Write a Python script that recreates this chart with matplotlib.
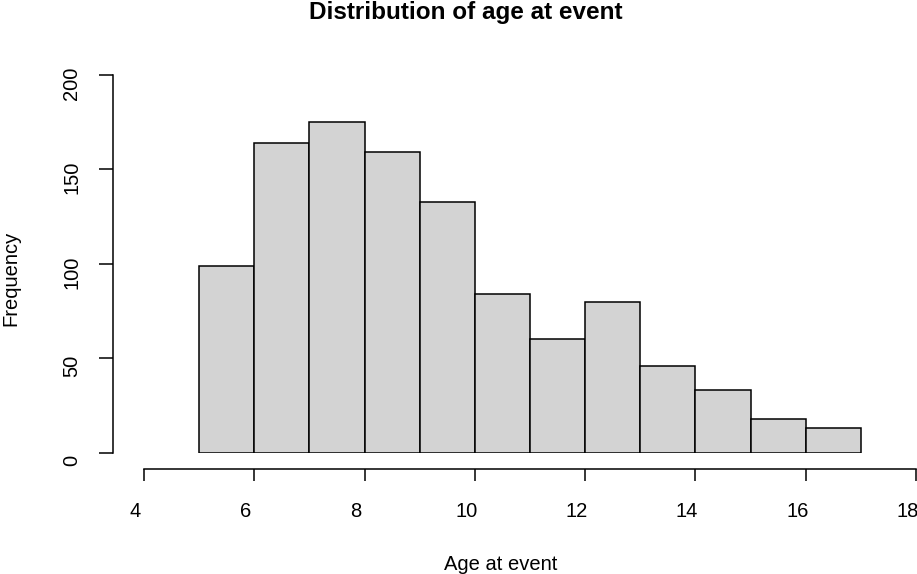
import numpy as np
import matplotlib
matplotlib.use('Agg')
import matplotlib.pyplot as plt
from matplotlib.transforms import ScaledTranslation

plt.rcParams['font.family'] = ['Liberation Sans', 'DejaVu Sans']

# histogram data
bin_edges = [5, 6, 7, 8, 9, 10, 11, 12, 13, 14, 15, 16, 17]
counts = [99, 164, 175, 159, 133, 84, 60, 80, 46, 33, 18, 13]
x_ticks = [4, 6, 8, 10, 12, 14, 16, 18]
y_ticks = [0, 50, 100, 150, 200]

W, H = 917, 574
fig = plt.figure(figsize=(W / 100, H / 100), dpi=100)
ax = fig.add_axes([144 / W, 1 - 452.7 / H, (916 - 144) / W, (452.7 - 75) / H])

edges = np.array(bin_edges)
ax.bar(edges[:-1], counts, width=np.diff(edges), align='edge',
       color='#d3d3d3', edgecolor='black', linewidth=1.1)

ax.set_xlim(4, 18)
ax.set_ylim(0, 200)
ax.set_xticks(x_ticks)
ax.set_yticks(y_ticks)

for s in ['top', 'right']:
    ax.spines[s].set_visible(False)
ax.spines['bottom'].set_position(('outward', 11.7))
ax.spines['left'].set_position(('outward', 22.1))
for s in ['bottom', 'left']:
    ax.spines[s].set_linewidth(1.1)

ax.tick_params(axis='x', length=8.4, width=1.1, pad=15.3, labelsize=14.5)
ax.tick_params(axis='y', length=10, width=1.1, pad=13.2, labelsize=14.5,
               labelrotation=90)
for lab in ax.get_yticklabels():
    lab.set_va('center')

# labels in the reference sit a little off their ticks
for lab in ax.get_xticklabels():
    lab.set_transform(lab.get_transform() + ScaledTranslation(-8.5 / 100, 0, fig.dpi_scale_trans))
for lab in ax.get_yticklabels():
    lab.set_transform(lab.get_transform() + ScaledTranslation(0, -8 / 100, fig.dpi_scale_trans))

fig.text(466 / W, 1 - 18.5 / H, 'Distribution of age at event', ha='center',
         va='baseline', fontsize=17.5, fontweight='bold')
fig.text(501 / W, 1 - 570 / H, 'Age at event', ha='center', va='baseline',
         fontsize=14.5)
fig.text(10.5 / W, 1 - 278 / H, 'Frequency', ha='center', va='center',
         rotation=90, fontsize=14.5)

fig.savefig('out.png', dpi=100)
